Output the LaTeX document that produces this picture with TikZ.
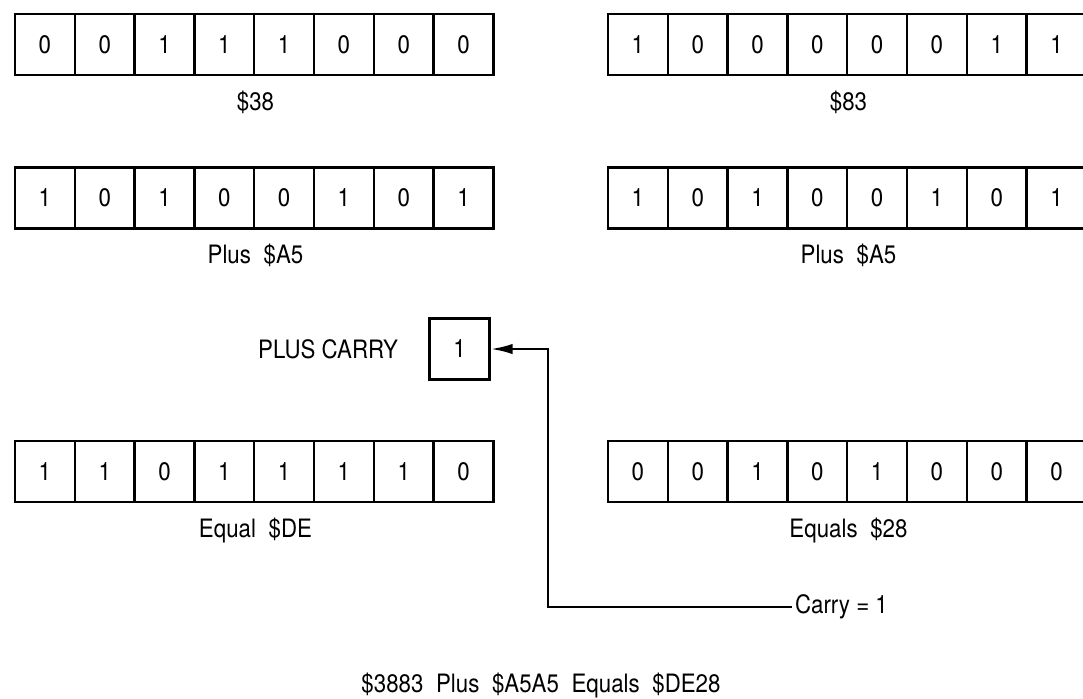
\documentclass[tikz,border=0pt]{standalone}
\usepackage{fontspec}
\setmainfont{TeX Gyre Heros}[FakeStretch=0.88]
\usetikzlibrary{positioning,arrows.meta}
\tikzset{
  bit/.style={draw, line width=1.8pt, minimum width=1.495cm, minimum height=1.525cm, inner sep=0pt, font=\fontsize{18}{21}\selectfont},
  tag/.style={font=\fontsize{18}{21}\selectfont, inner sep=2pt}
}

\begin{document}
\begin{tikzpicture}[x=0.025cm, y=-0.025cm]
    \useasboundingbox (0,0) rectangle (1083,698);
    % Registers: name / left edge / centre line / bits
    \foreach \reg/\xo/\yo/\bits in {a/15/44.5/{0,0,1,1,1,0,0,0}, b/608/44.5/{1,0,0,0,0,0,1,1},
        c/15/198/{1,0,1,0,0,1,0,1}, d/608/198/{1,0,1,0,0,1,0,1},
        e/15/471.5/{1,1,0,1,1,1,1,0}, f/608/471.5/{0,0,1,0,1,0,0,0}}
      \foreach \b [count=\i] in \bits
        \node[bit] (\reg\i) at ({\xo+29.9+59.8*(\i-1)},\yo) {\b};
    % Register labels
    \node[tag, below=0.28cm of a4.south east] (la) {\$38};
    \node[tag, below=0.28cm of b4.south east] (lb) {\$83};
    \node[tag, below=0.28cm of c4.south east] (lc) {Plus\enspace\$A5};
    \node[tag, below=0.28cm of d4.south east] (ld) {Plus\enspace\$A5};
    \node[tag, below=0.28cm of e4.south east] (le) {Equal\enspace\$DE};
    \node[tag, below=0.28cm of f4.south east] (lf) {Equals\enspace\$28};
    % Carry in
    \node[bit] (cy) at (459.5,349) {1};
    \node[tag, left=0.68cm of cy] (pc) {PLUS CARRY};
    % Carry out
    \coordinate (bend) at (548,607);
    \node[tag, anchor=west] (co) at (792,607) {Carry = 1};
    \draw[line width=1.8pt, -{Latex[length=0.55cm, width=0.26cm]}] (co.west) -- (bend) |- (cy.east);
    % Sum
    \node[tag] (sum) at (541,686) {\$3883\enspace Plus\enspace\$A5A5\enspace Equals\enspace\$DE28};
\end{tikzpicture}
\end{document}
